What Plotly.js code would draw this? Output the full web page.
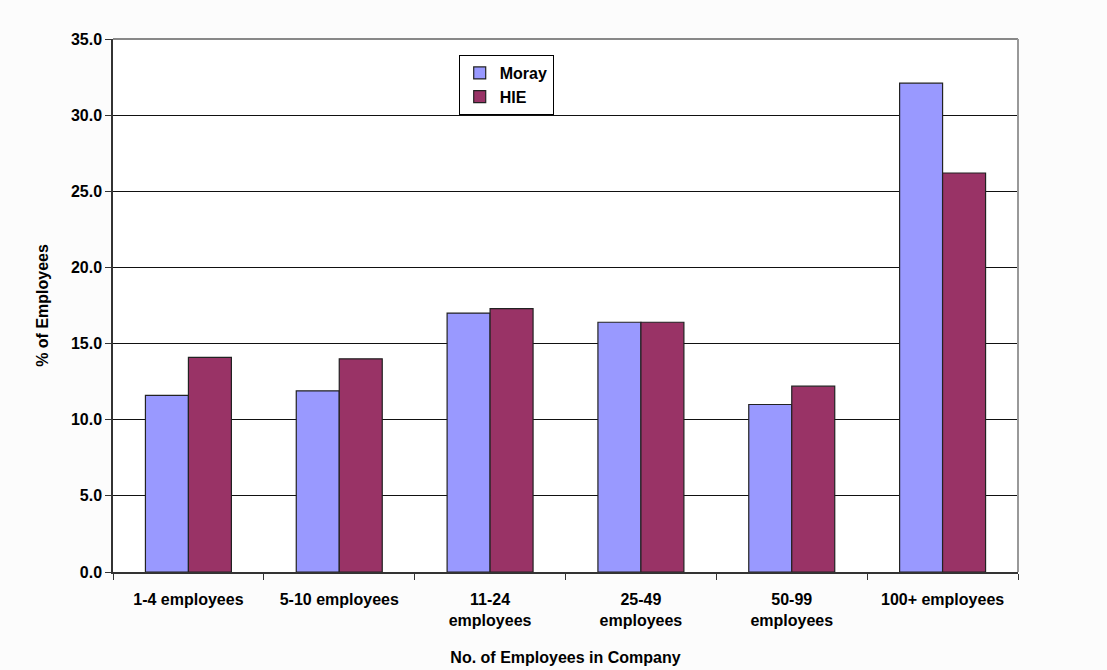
<!DOCTYPE html>
<html>
<head>
<meta charset="utf-8">
<script src="https://cdn.plot.ly/plotly-3.0.1.min.js"></script>
<style>html,body{margin:0;padding:0;background:#fcfcfc;}#chart{width:1107px;height:670px;}</style>
</head>
<body>
<div id="chart"></div>
<script>
const categories = ["1-4 employees", "5-10 employees", "11-24<br>employees", "25-49<br>employees", "50-99<br>employees", "100+ employees"];
const morayValues = [11.6, 11.9, 17.0, 16.4, 11.0, 32.1];
const hieValues = [14.1, 14.0, 17.3, 16.4, 12.2, 26.2];
const yTickValues = [0, 5, 10, 15, 20, 25, 30, 35];
const yTickLabels = ["0.0", "5.0", "10.0", "15.0", "20.0", "25.0", "30.0", "35.0"];

const traces = [
  {type: "bar", name: "Moray", x: categories, y: morayValues,
   marker: {color: "#9999ff", line: {color: "#222", width: 1.2}}},
  {type: "bar", name: "HIE", x: categories, y: hieValues,
   marker: {color: "#993366", line: {color: "#222", width: 1.2}}}
];

const layout = {
  width: 1107, height: 670,
  margin: {l: 113, r: 89, t: 39, b: 98},
  paper_bgcolor: "#fcfcfc", plot_bgcolor: "#ffffff",
  font: {family: "Liberation Sans, Arial, sans-serif", size: 16, color: "#000", weight: "bold"},
  barmode: "group", bargap: 0.43, bargroupgap: 0,
  showlegend: true,
  legend: {x: 0.382, y: 0.97, xanchor: "left", yanchor: "top",
    bgcolor: "#ffffff", bordercolor: "#000", borderwidth: 1,
    font: {size: 16, weight: "bold"}, tracegroupgap: 0, itemwidth: 30},
  xaxis: {
    type: "category", tickson: "boundaries", ticks: "outside", ticklen: 6, tickcolor: "#333",
    showline: true, linecolor: "#333", linewidth: 1.5, showgrid: false,
    tickfont: {size: 16, weight: "bold"}, ticklabelstandoff: 12,
    title: {text: "No. of Employees in Company", font: {size: 16, weight: "bold"}, standoff: 24}
  },
  yaxis: {
    range: [0, 35], tickvals: yTickValues, ticktext: yTickLabels,
    ticks: "outside", ticklen: 6, tickcolor: "#333",
    showline: true, linecolor: "#333", linewidth: 1.5,
    showgrid: true, gridcolor: "#111", gridwidth: 1.2, zeroline: false,
    tickfont: {size: 16, weight: "bold"},
    title: {text: "% of Employees", font: {size: 16, weight: "bold"}, standoff: 18}
  },
  shapes: [
    {type: "line", xref: "paper", yref: "paper", x0: 0, x1: 1, y0: 1, y1: 1, line: {color: "#888", width: 2}},
    {type: "line", xref: "paper", yref: "paper", x0: 1, x1: 1, y0: 0, y1: 1, line: {color: "#999", width: 2}}
  ]
};

Plotly.newPlot("chart", traces, layout, {displayModeBar: false});
</script>
</body>
</html>
